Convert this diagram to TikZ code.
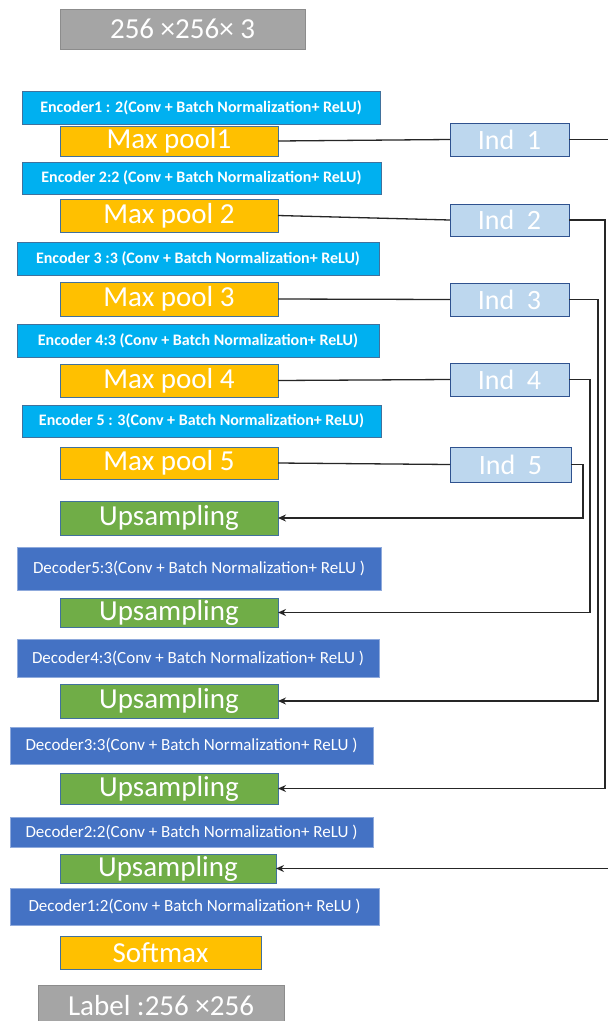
\documentclass[tikz,border=0pt]{standalone}
\usepackage{fontspec}
\setmainfont{Carlito}
\usetikzlibrary{arrows.meta}
\definecolor{encC}{HTML}{00B0F0}
\definecolor{poolC}{HTML}{FFC000}
\definecolor{indC}{HTML}{BDD7EE}
\definecolor{upC}{HTML}{70AD47}
\definecolor{decC}{HTML}{4472C4}
\definecolor{grayC}{HTML}{A5A5A5}
\definecolor{bordC}{HTML}{41719C}
\definecolor{indB}{HTML}{2F528F}
\definecolor{decB}{HTML}{8FAADC}
\definecolor{grayB}{HTML}{8C8C8C}
\definecolor{lineC}{HTML}{262626}
\tikzset{
  boxbase/.style={inner sep=0pt, outer sep=0pt, text=white, line width=1pt},
  bigtext/.style={font=\fontsize{29}{29}\selectfont},
  enc/.style={boxbase, fill=encC, draw=bordC, font=\bfseries\fontsize{16}{16}\selectfont},
  dec/.style={boxbase, fill=decC, draw=decB, font=\fontsize{17}{17}\selectfont},
  pool/.style={boxbase, bigtext, fill=poolC, draw=bordC},
  ind/.style={boxbase, font=\fontsize{28}{28}\selectfont, fill=indC, draw=indB},
  ups/.style={boxbase, bigtext, fill=upC, draw=bordC},
  grey/.style={boxbase, bigtext, fill=grayC, draw=grayB},
  conn/.style={draw=lineC, line width=1.3pt},
  arr/.style={conn, -{Stealth[length=8pt,width=7pt]}}
}
% \bx{name}{style}{x1}{y1}{x2}{y2}{text}
\newcommand{\bx}[7]{%
  \node[#2, minimum width={(#5-#3)*1pt}, minimum height={(#6-#4)*1pt}]
    (#1) at ({(#3+#5)/2}, {(#4+#6)/2}) {#7};}
\begin{document}
\begin{tikzpicture}[x=1pt, y=-1pt]
\useasboundingbox (0,0) rectangle (608,1021);
\clip (0,0) rectangle (608,1021);
\fill[white] (0,0) rectangle (608,1021);

\bx{inp}{grey}{60}{9}{305}{49}{256 ×256× 3}

\bx{e1}{enc}{22}{91}{380}{124}{Encoder1 : 2(Conv + Batch Normalization+ ReLU)}
\bx{mp1}{pool}{60}{126}{278}{156}{Max pool1}
\bx{e2}{enc}{22}{162}{381}{194}{Encoder 2:2 (Conv + Batch Normalization+ ReLU)}
\bx{mp2}{pool}{60}{199}{278}{232}{Max pool 2}
\bx{e3}{enc}{17}{242}{379}{275}{Encoder 3 :3 (Conv + Batch Normalization+ ReLU)}
\bx{mp3}{pool}{60}{282}{278}{316}{Max pool 3}
\bx{e4}{enc}{17}{324}{379}{357}{Encoder 4:3 (Conv + Batch Normalization+ ReLU)}
\bx{mp4}{pool}{60}{364}{278}{397}{Max pool 4}
\bx{e5}{enc}{22}{405}{381}{437}{Encoder 5 : 3(Conv + Batch Normalization+ ReLU)}
\bx{mp5}{pool}{60}{447}{278}{479}{Max pool 5}

\bx{i1}{ind}{450}{123}{569}{156}{Ind~~1}
\bx{i2}{ind}{450}{204}{569}{236}{Ind~~2}
\bx{i3}{ind}{450}{283}{569}{316}{Ind~~3}
\bx{i4}{ind}{450}{363}{569}{396}{Ind~~4}
\bx{i5}{ind}{450}{447}{571}{482}{Ind~~5}

\bx{u1}{ups}{60}{501}{278}{535}{Upsampling}
\bx{d5}{dec}{17}{547}{381}{590}{Decoder5:3(Conv + Batch Normalization+ ReLU )}
\bx{u2}{ups}{60}{598}{278}{627}{Upsampling}
\bx{d4}{dec}{17}{639}{379}{677}{Decoder4:3(Conv + Batch Normalization+ ReLU )}
\bx{u3}{ups}{60}{684}{278}{718}{Upsampling}
\bx{d3}{dec}{10}{727}{373}{764}{Decoder3:3(Conv + Batch Normalization+ ReLU )}
\bx{u4}{ups}{60}{773}{278}{804}{Upsampling}
\bx{d2}{dec}{10}{817}{373}{847}{Decoder2:2(Conv + Batch Normalization+ ReLU )}
\bx{u5}{ups}{60}{854}{276}{883}{Upsampling}
\bx{d1}{dec}{10}{888}{379}{925}{Decoder1:2(Conv + Batch Normalization+ ReLU )}
\bx{sm}{pool}{60}{936}{261}{969}{Softmax}
\bx{lab}{grey}{38}{985}{284}{1026}{Label :256 ×256}

\draw[conn] (mp1.east) -- (i1.west);
\draw[conn] (mp2.east) -- (i2.west);
\draw[conn] (mp3.east) -- (i3.west);
\draw[conn] (mp4.east) -- (i4.west);
\draw[conn] (mp5.east) -- (i5.west);

\draw[arr] (i1.east) -- ++(50,0) |- (u5.east);
\draw[arr] (i2.east) -- ++(36,0) |- (u4.east);
\draw[arr] (i3.east) -- ++(29,0) |- (u3.east);
\draw[arr] (i4.east) -- ++(21,0) |- (u2.east);
\draw[arr] (i5.east) -- ++(12,0) |- (u1.east);
\end{tikzpicture}
\end{document}
